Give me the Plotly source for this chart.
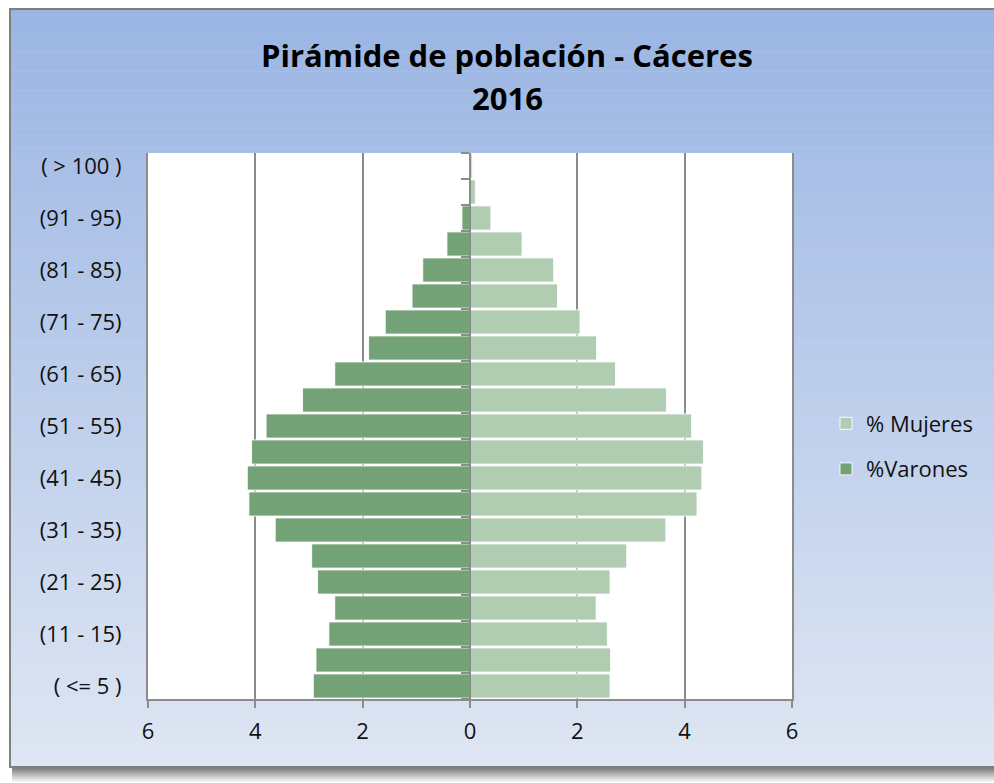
import plotly.graph_objects as go

# ---------------- data (bottom -> top) ----------------
categories = ["( <= 5 )", "(6 - 10)", "(11 - 15)", "(16 - 20)", "(21 - 25)",
              "(26 - 30)", "(31 - 35)", "(36 - 40)", "(41 - 45)", "(46 - 50)",
              "(51 - 55)", "(56 - 60)", "(61 - 65)", "(66 - 70)", "(71 - 75)",
              "(76 - 80)", "(81 - 85)", "(86 - 90)", "(91 - 95)", "(96 - 100)",
              "( > 100 )"]
varones = [2.92, 2.87, 2.63, 2.52, 2.84, 2.95, 3.63, 4.12, 4.15, 4.07,
           3.80, 3.12, 2.52, 1.89, 1.58, 1.08, 0.88, 0.43, 0.15, 0.0, 0.0]
mujeres = [2.61, 2.62, 2.56, 2.35, 2.61, 2.92, 3.65, 4.23, 4.32, 4.35,
           4.13, 3.66, 2.71, 2.36, 2.05, 1.63, 1.56, 0.97, 0.39, 0.10, 0.04]
y_tick_labels = categories[::2]
x_tick_vals = [-6, -4, -2, 0, 2, 4, 6]
x_tick_text = ["6", "4", "2", "0", "2", "4", "6"]

title_line1 = "Pirámide de población - Cáceres"
title_line2 = "2016"

# ---------------- layout geometry ----------------
W, H = 994, 783
L, R, T, B = 148, 202, 153, 84
PW, PH = W - L - R, H - T - B


def px(x):
    """page pixel x -> paper fraction"""
    return (x - L) / PW


def py(y):
    """page pixel y -> paper fraction"""
    return (H - B - y) / PH


FONT = "Open Sans"
GRAY = "#8c8c8c"
MALE = "#72a276"
FEMALE = "#b0cdb1"

shapes = []
# drop shadow under the frame
for i in range(16):
    t = i / 15
    g = int(120 + (255 - 120) * t)
    shapes.append(dict(type="rect", xref="paper", yref="paper",
                       x0=px(12), x1=px(1010), y0=py(767 + i + 1), y1=py(767 + i),
                       fillcolor=f"rgb({g},{g},{g})", line=dict(width=0), layer="below"))
# gradient background of the chart frame
top = (154, 181, 227)
bot = (223, 230, 243)
n = 120
ytop, ybot = 8, 767
for i in range(n):
    t = (i + 0.5) / n
    c = tuple(int(round(top[k] + (bot[k] - top[k]) * t)) for k in range(3))
    y0 = ytop + (ybot - ytop) * i / n
    y1 = ytop + (ybot - ytop) * (i + 1) / n
    shapes.append(dict(type="rect", xref="paper", yref="paper",
                       x0=px(10), x1=px(1010), y0=py(y1 + 0.5), y1=py(y0),
                       fillcolor=f"rgb({c[0]},{c[1]},{c[2]})", line=dict(width=0),
                       layer="below"))
# frame border
shapes.append(dict(type="rect", xref="paper", yref="paper",
                   x0=px(10), x1=px(1010), y0=py(767), y1=py(9),
                   fillcolor="rgba(0,0,0,0)", line=dict(color="#7f7f7f", width=2),
                   layer="below"))
# white plot area
shapes.append(dict(type="rect", xref="paper", yref="paper", x0=0, x1=1, y0=0, y1=1,
                   fillcolor="white", line=dict(width=0), layer="below"))

fig = go.Figure()
fig.add_trace(go.Bar(
    name="% Mujeres", y=categories, x=mujeres, orientation="h",
    yaxis="y2", marker=dict(color=FEMALE, line=dict(color="rgba(255,255,255,0.9)", width=1)),
    legendgroup="f",
))
fig.add_trace(go.Bar(
    name="%Varones", y=categories, x=[-v for v in varones], orientation="h",
    yaxis="y", marker=dict(color=MALE, line=dict(color="rgba(255,255,255,0.9)", width=1)),
    legendgroup="m",
))

annotations = [
    dict(text=f"<b>{title_line1}</b>", xref="paper", yref="paper",
         x=px(507), y=py(55), xanchor="center", yanchor="middle", showarrow=False,
         font=dict(family=FONT, size=31, color="black")),
    dict(text=f"<b>{title_line2}</b>", xref="paper", yref="paper",
         x=px(507), y=py(98), xanchor="center", yanchor="middle", showarrow=False,
         font=dict(family=FONT, size=31, color="black")),
]

fig.update_layout(
    width=W, height=H,
    margin=dict(l=L, r=R, t=T, b=B, pad=0),
    paper_bgcolor="white", plot_bgcolor="white",
    barmode="overlay", bargap=0.07,
    shapes=shapes, annotations=annotations,
    font=dict(family=FONT, size=22, color="#111111"),
    showlegend=True,
    legend=dict(x=px(826), y=py(446.5), xanchor="left", yanchor="middle",
                traceorder="grouped", tracegroupgap=14,
                bgcolor="rgba(0,0,0,0)", font=dict(family=FONT, size=22, color="#111111")),
    xaxis=dict(range=[-6, 6], tickmode="array", tickvals=x_tick_vals, ticktext=x_tick_text,
               showgrid=True, gridcolor=GRAY, gridwidth=1.5, zeroline=False,
               showline=True, linecolor=GRAY, linewidth=2,
               ticks="outside", ticklen=7, tickcolor=GRAY, tickwidth=1.5,
               ticklabelstandoff=5, fixedrange=True),
    yaxis=dict(type="category", categoryorder="array", categoryarray=categories,
               range=[-0.5, len(categories) - 0.5],
               tickmode="array", tickvals=y_tick_labels, ticktext=y_tick_labels,
               showgrid=False, zeroline=False,
               showline=True, mirror=True, linecolor=GRAY, linewidth=2,
               ticks="", ticklabelstandoff=20),
    yaxis2=dict(type="category", categoryorder="array", categoryarray=categories,
                range=[-0.5, len(categories) - 0.5], overlaying="y",
                anchor="free", position=0.5, side="left",
                showline=True, linecolor=GRAY, linewidth=2,
                ticks="outside", ticklen=8, tickcolor=GRAY, tickwidth=1.5,
                tickson="boundaries", showticklabels=False,
                showgrid=False, zeroline=False),
)

# remove the default page margin / scrollbars so the figure fills the window exactly
page_css = ("document.body.style.margin='0';"
            "document.documentElement.style.overflow='hidden';"
            "document.body.style.overflow='hidden';")
fig.write_html("out.html", post_script=page_css,
               config={"displayModeBar": False, "staticPlot": False})
